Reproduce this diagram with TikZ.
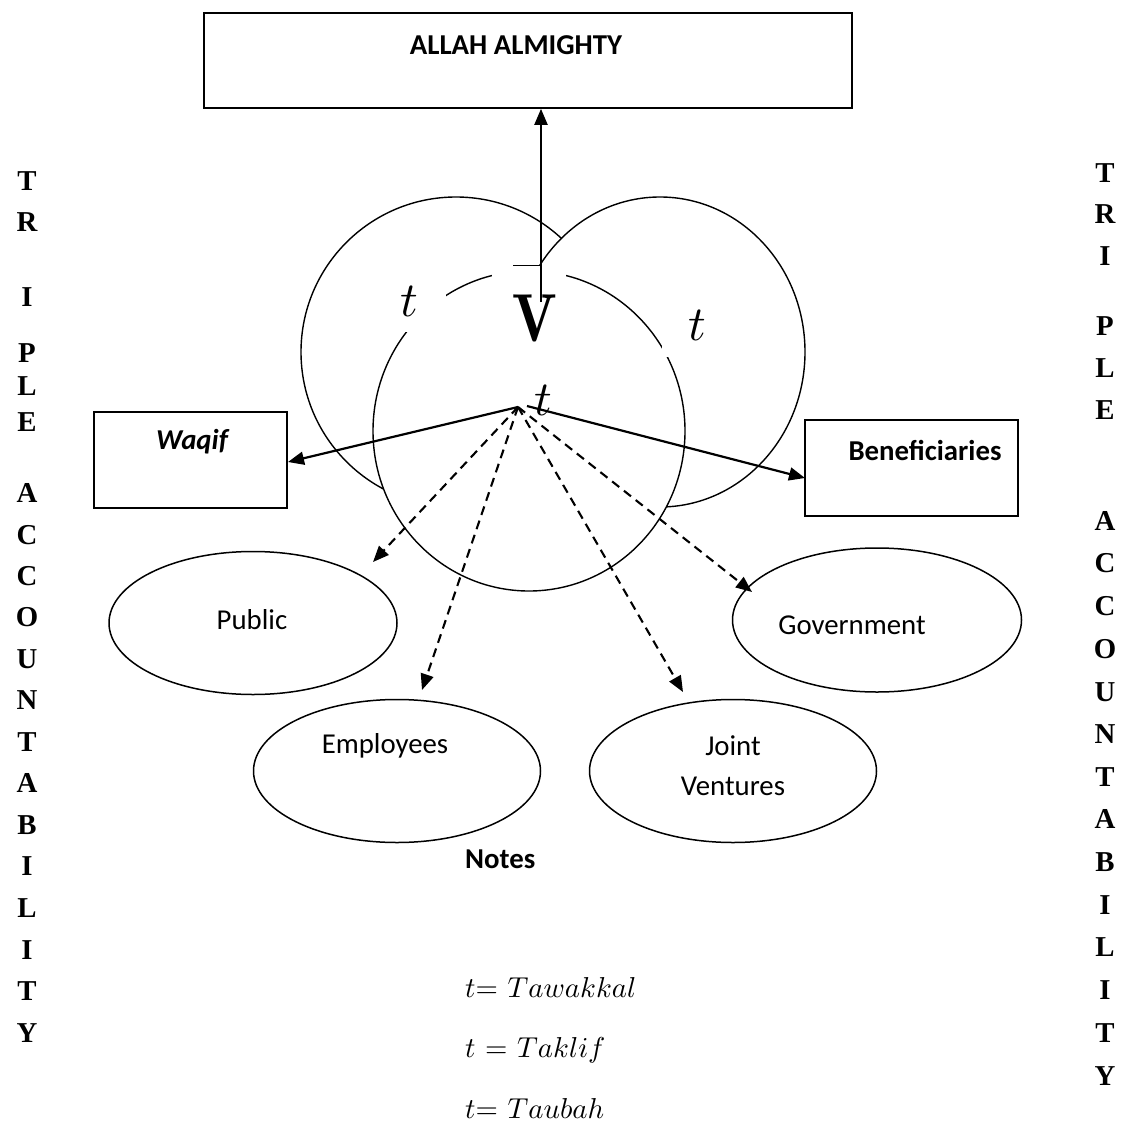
\documentclass[tikz,border=0pt]{standalone}
\usepackage{graphicx}
\usepackage{fontspec}
\newfontfamily\calib{Carlito}
\newfontfamily\timesf{Liberation Serif}
\usetikzlibrary{arrows.meta,shapes.geometric}
\begin{document}
\begin{tikzpicture}[x=1pt,y=-1pt,
  box/.style={draw, line width=1.7pt, inner sep=0pt},
  oval/.style={draw, ellipse, line width=1.5pt, inner sep=0pt},
  circ/.style={draw, fill=white, line width=1.4pt},
  lbl/.style={font=\calib\fontsize{28.8}{34}\selectfont, inner sep=0pt},
  solidarrow/.style={line width=2.2pt, -{Triangle[length=16pt,width=13pt]}},
  dasharrow/.style={line width=2.1pt, dash pattern=on 9pt off 6pt, -{Triangle[length=16pt,width=13pt]}},
  tri/.style={font=\timesf\bfseries\fontsize{28.8}{34}\selectfont, inner sep=0pt},
  bigt/.style={inner sep=0pt},
  notefont/.style={inner sep=0pt, anchor=west},
]
\useasboundingbox (0,0) rectangle (1122,1124);

% top box
\node[box, minimum width=648pt, minimum height=95pt] (allah) at (528,60.5) {};
\node[lbl] (allahtxt) at (516,45) {\bfseries ALLAH ALMIGHTY};

% three circles
\draw[circ] (456,352) circle[radius=155];
\draw[circ] (660,352) ellipse[x radius=145, y radius=155];
\draw[circ] (529,431) ellipse[x radius=156, y radius=160];

% white label areas
\fill[white] (380,258) rectangle (446,332);
\fill[white] (492,265) rectangle (566,345);
\fill[white] (662,290) rectangle (730,357);
\draw[line width=0.9pt] (513,265) -- (541,265);

\node[bigt] (tleft) at (409,301) {\scalebox{4.9}{$t$}};
\node[bigt] (tright) at (697,325) {\scalebox{4.9}{$t$}};
\node[bigt] (tmid) at (543,400) {\scalebox{4.9}{$t$}};
\node[inner sep=0pt] (vnode) at (535,318) {\scalebox{5.9}[6.8]{$\mathbf{V}$}};

% side boxes
\node[box, minimum width=193pt, minimum height=96pt] (waqif) at (190.5,460) {};
\node[lbl] (waqiftxt) at (192,442) {\bfseries\itshape Waqif};
\node[box, minimum width=213pt, minimum height=96pt] (benef) at (911.5,468) {};
\node[lbl] (beneftxt) at (925,450) {\bfseries Beneficiaries};

% ellipses
\node[oval, minimum width=288pt, minimum height=143pt] (public) at (253,623) {};
\node[lbl] (publictxt) at (252,620) {Public};
\node[oval, minimum width=289pt, minimum height=144pt] (gov) at (877,620) {};
\node[lbl] (govtxt) at (852,625) {Government};
\node[oval, minimum width=287pt, minimum height=143pt] (emp) at (397,771) {};
\node[lbl] (emptxt) at (385,746) {Employees};
\node[oval, minimum width=287pt, minimum height=143pt] (jv) at (733,771) {};
\node[lbl] (jvtxt1) at (733,746) {Joint};
\node[lbl] (jvtxt2) at (733,786) {Ventures};

% connectors
\coordinate (vbot) at (541,302);
\draw[solidarrow] (vbot) -- (vbot |- allah.south);
\coordinate (hub) at (518,407);
\coordinate (hubr) at (527,406);
\coordinate (wtip) at (288,462);
\coordinate (btip) at (805,478);
\draw[solidarrow] (hub) -- (wtip);
\draw[solidarrow] (hubr) -- (btip);
\coordinate (ptip) at (373,562);
\coordinate (etip) at (422,690);
\coordinate (jtip) at (683,692);
\coordinate (gtip) at (752,592);
\draw[dasharrow] (hub) -- (ptip);
\draw[dasharrow] (hub) -- (etip);
\draw[dasharrow] (hub) -- (jtip);
\draw[dasharrow] (hub) -- (gtip);

% notes
\node[lbl, anchor=west] (notes) at (465,859) {\bfseries Notes};
\node[notefont] (n1) at (465,987) {\scalebox{2.88}{$t$= $Tawakkal$}};
\node[notefont] (n2) at (465,1050) {\scalebox{2.88}{$t$ = $Taklif$}};
\node[notefont] (n3) at (465,1108) {\scalebox{2.88}{$t$= $Taubah$}};

% triple accountability columns
\foreach \ch/\yy [count=\i] in {T/181,R/222,I/297,P/353,L/386,E/422,A/493,C/535,C/576,O/617,U/659,N/700,T/742,A/783,B/825,I/866,L/908,I/950,T/991,Y/1033}
  \node[tri] (lcol\i) at (27,\yy) {\ch};
\foreach \ch/\yy [count=\i] in {T/173,R/214,I/256,P/326,L/368,E/410,A/521,C/563,C/606,O/649,U/692,N/734,T/777,A/819,B/862,I/905,L/947,I/990,T/1033,Y/1076}
  \node[tri] (rcol\i) at (1105,\yy) {\ch};
\end{tikzpicture}
\end{document}
